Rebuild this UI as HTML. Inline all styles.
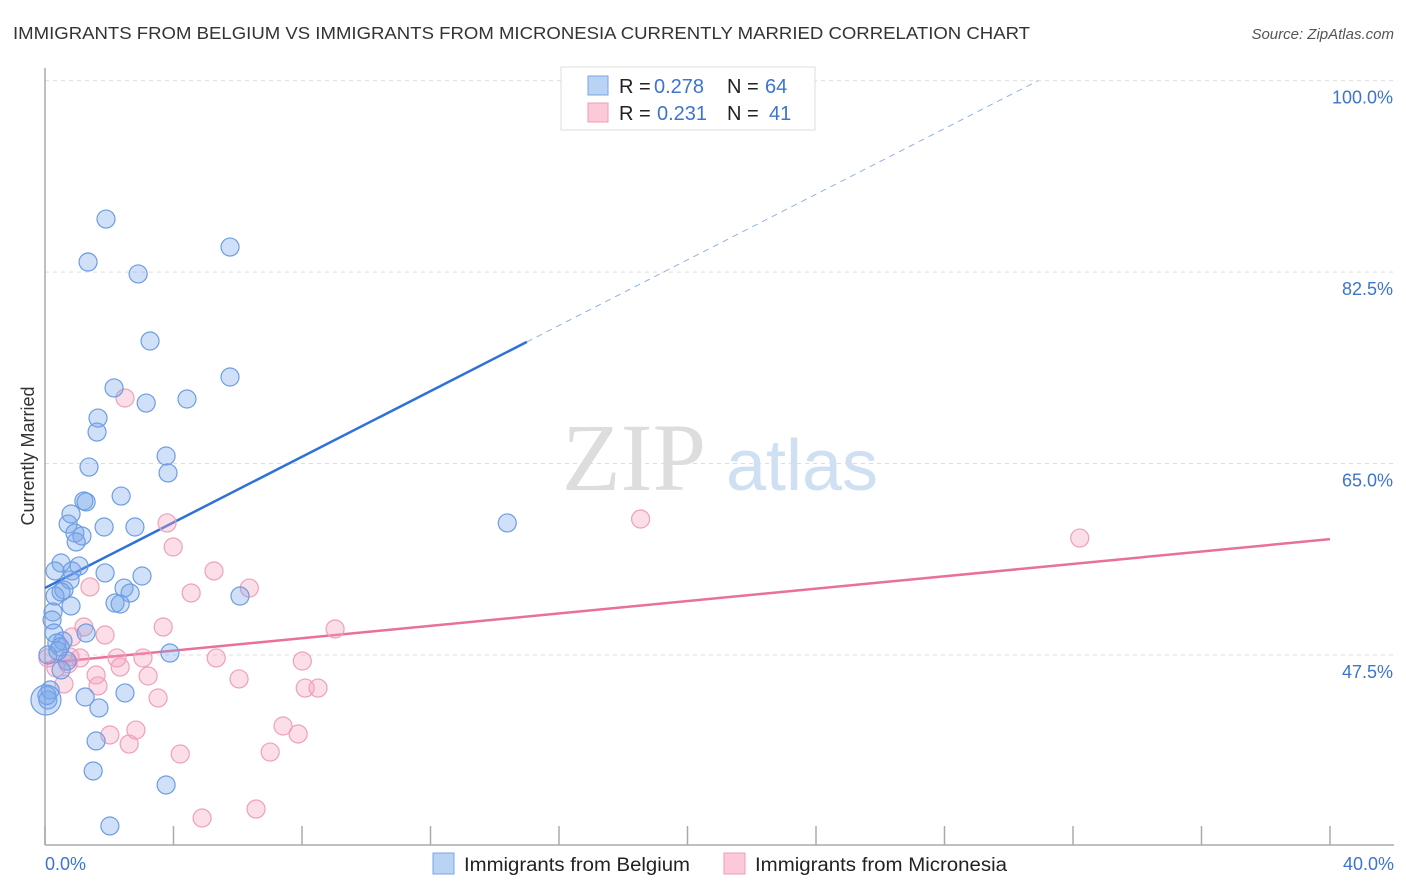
<!DOCTYPE html>
<html><head><meta charset="utf-8">
<style>
body{margin:0;background:#fff;font-family:"Liberation Sans",sans-serif;}
svg{display:block}
</style></head>
<body>
<svg id="chart" width="1406" height="892" xmlns="http://www.w3.org/2000/svg">
<text x="13" y="39" font-size="17.5" fill="#333" textLength="1017" lengthAdjust="spacingAndGlyphs">IMMIGRANTS FROM BELGIUM VS IMMIGRANTS FROM MICRONESIA CURRENTLY MARRIED CORRELATION CHART</text>
<text x="1394" y="39" font-size="15" fill="#555" font-style="italic" text-anchor="end">Source: ZipAtlas.com</text>
<g>
<text x="634" y="490" font-size="96" fill="#ddd" font-family="Liberation Serif,serif" text-anchor="middle">ZIP</text>
<text x="802" y="490" font-size="72" fill="#cfe0f3" text-anchor="middle">atlas</text>
</g>
<g id="grid"></g>
<g id="axes"></g>
<g id="lines"></g>
<g id="points"></g>
<text transform="translate(34,456) rotate(-90)" font-size="18" fill="#333" text-anchor="middle">Currently Married</text>
<text x="45" y="870" font-size="18" fill="#3d74d0">0.0%</text>
<text x="1394" y="870" font-size="18" fill="#3d74d0" text-anchor="end">40.0%</text>
<g>
<rect x="561" y="67" width="254" height="63" fill="#fff" stroke="#ddd"/>
<rect x="588" y="76" width="20" height="19" fill="#b9d3f5" stroke="#7aa6e3"/>
<rect x="588" y="103" width="20" height="19" fill="#fcc9d8" stroke="#ef9cb6"/>
<text x="619" y="93" font-size="20" fill="#222">R = <tspan fill="#3d74d0" x="654">0.278</tspan><tspan x="727">N = </tspan><tspan fill="#3d74d0" x="765">64</tspan></text>
<text x="619" y="120" font-size="20" fill="#222">R = <tspan fill="#3d74d0" x="657">0.231</tspan><tspan x="727">N = </tspan><tspan fill="#3d74d0" x="769">41</tspan></text>
</g>
<g>
<rect x="433" y="853" width="21" height="21" fill="#b9d3f5" stroke="#7aa6e3"/>
<text x="464" y="871" font-size="19" fill="#222" textLength="226" lengthAdjust="spacingAndGlyphs">Immigrants from Belgium</text>
<rect x="724" y="853" width="21" height="21" fill="#fcc9d8" stroke="#ef9cb6"/>
<text x="755" y="871" font-size="19" fill="#222" textLength="252" lengthAdjust="spacingAndGlyphs">Immigrants from Micronesia</text>
</g>
</svg>
<script>
const yTicks=[47.5,65.0,82.5,100.0];
const yTickLabels=["47.5%","65.0%","82.5%","100.0%"];
const xTicks=[0,4,8,12,16,20,24,28,32,36,40];
const belgiumX=[1.90,1.34,2.90,5.76,3.27,5.76,2.15,4.42,3.15,1.65,1.62,3.77,3.83,1.37,2.37,1.21,1.28,0.81,0.72,1.84,2.80,0.93,1.15,0.97,0.50,1.06,0.31,0.84,1.87,3.02,0.78,0.59,2.46,0.31,2.65,0.50,2.18,2.34,0.81,6.07,0.25,0.22,0.28,1.28,0.56,0.37,0.47,3.89,0.09,0.69,0.50,1.25,2.49,1.68,1.59,1.50,3.77,2.02,14.39,0.09,0.16,0.40,0.06,0.03];
const belgiumY=[87.35,83.42,82.33,84.79,76.20,72.91,71.91,70.90,70.53,69.16,67.88,65.69,64.14,64.68,62.03,61.58,61.49,60.39,59.47,59.20,59.20,58.65,58.38,57.83,55.91,55.64,55.18,55.18,55.00,54.72,54.36,53.44,53.62,52.89,53.17,53.26,52.25,52.16,51.98,52.89,51.43,50.70,49.51,49.51,48.78,48.60,48.23,47.68,47.50,46.95,46.13,43.66,44.03,42.66,39.64,36.90,35.62,31.87,59.57,43.39,44.30,47.87,43.80,43.39];
const belgiumSize=[9,9,9,9,9,9,9,9,9,9,9,9,9,9,9,9,9,9,9,9,9,9,9,9,9,9,9,9,9,9,9,9,9,9,9,9,9,9,9,9,9,9,9,9,9,9,9,9,9,9,9,9,9,9,9,9,9,9,9,9,9,9,9,15];
const microX=[2.49,3.80,3.99,18.54,32.21,5.26,1.40,4.55,6.36,3.68,9.03,1.21,1.87,0.84,0.78,1.09,2.24,3.05,5.33,8.01,2.34,1.59,3.21,6.04,1.65,0.59,8.10,8.50,3.52,7.41,2.83,7.88,2.02,2.62,4.21,7.01,6.57,4.89,0.34,0.72,0.09];
const microY=[70.99,59.57,57.37,59.93,58.19,55.18,53.72,53.17,53.62,50.06,49.88,50.06,49.33,49.15,47.32,47.23,47.23,47.23,47.23,46.95,46.40,45.67,45.58,45.31,44.67,44.85,44.48,44.48,43.57,41.01,40.64,40.28,40.19,39.36,38.45,38.63,33.42,32.60,46.31,46.68,47.23];
const belgiumTrend=[53.62,1.5];   // intercept, slope
const microTrend=[46.77,0.283];
const NS='http://www.w3.org/2000/svg';
const xS=v=>45+v*32.125;
const yS=v=>655-(v-47.5)*10.94;
function mk(tag,attrs,parent){const e=document.createElementNS(NS,tag);for(const k in attrs)e.setAttribute(k,attrs[k]);document.getElementById(parent).appendChild(e);return e;}
yTicks.forEach((t,i)=>{
 const g=mk('line',{x1:45,x2:1394,y1:yS(t),y2:yS(t),stroke:'#ddd','stroke-dasharray':'4,4'},'grid');
 
 
 const l=mk('text',{x:1393,y:yS(t)+23,'font-size':18,fill:'#3d74d0','text-anchor':'end'},'grid');
 l.textContent=yTickLabels[i];
 
 
});
const ax=mk('line',{x1:45,x2:45,y1:68,y2:845,stroke:'#aaa','stroke-width':1.5},'axes');


const bx=mk('line',{x1:45,x2:1394,y1:845,y2:845,stroke:'#aaa','stroke-width':1.5},'axes');


xTicks.forEach(t=>{
 const k=mk('line',{x1:xS(t),x2:xS(t),y1:826,y2:845,stroke:'#aaa','stroke-width':1.5},'axes');
 
 
});
function trend(tr,x0,x1,attrs,name){
 const e=mk('line',Object.assign({x1:xS(x0),y1:yS(tr[0]+tr[1]*x0),x2:xS(x1),y2:yS(tr[0]+tr[1]*x1)},attrs),'lines');
 
 
}
trend(belgiumTrend,0,15,{stroke:'#2f72d6','stroke-width':2.5},'belgium-trend-line');
trend(belgiumTrend,15,(100-belgiumTrend[0])/belgiumTrend[1],{stroke:'#8fb2e6','stroke-width':1,'stroke-dasharray':'6,5'},'belgium-trend-extension');
trend(microTrend,0,40,{stroke:'#e8709b','stroke-width':2.5},'micronesia-trend-line');
microX.forEach((x,i)=>{
 const c=mk('circle',{cx:xS(x),cy:yS(microY[i]),r:9,fill:'rgba(245,160,190,0.35)',stroke:'#eea0ba','stroke-width':1.2},'points');
 
 
});
belgiumX.forEach((x,i)=>{
 const c=mk('circle',{cx:xS(x),cy:yS(belgiumY[i]),r:belgiumSize[i],fill:'rgba(120,165,235,0.35)',stroke:'#6d9de2','stroke-width':1.2},'points');
 
 
});
</script>
</body></html>
